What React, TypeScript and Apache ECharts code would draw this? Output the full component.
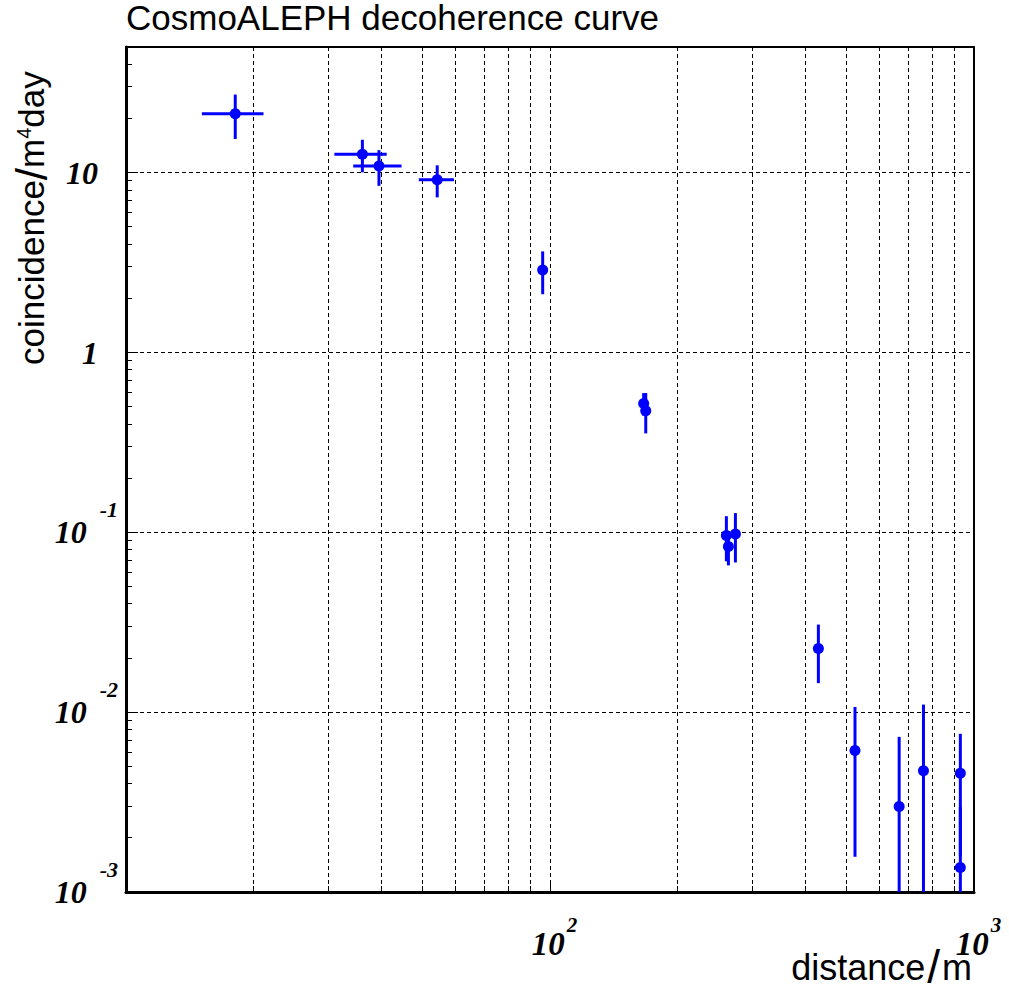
import React, { useEffect, useRef } from "react";
import * as echarts from "echarts";

// ---- data ----
const xVal = [18.1, 36.1, 39.5, 54.2, 96.1, 166.3, 168.2, 260.6, 263.5, 273.7, 429.5, 524, 666, 760, 928.5, 928.5];
const xErr = [3.0, 5.1, 5.15, 5.15, 0, 0, 0, 0, 0, 0, 0, 0, 0, 0, 0, 0];
const yVal = [21.3, 12.65, 10.9, 9.14, 2.88, 0.52, 0.475, 0.096, 0.0835, 0.098, 0.0226, 0.00613, 0.00299, 0.00472, 0.00458, 0.00137];
const yErr = [5.9, 2.6, 2.45, 1.85, 0.77, 0.075, 0.12, 0.027, 0.018, 0.03, 0.0081, 0.00456, 0.0043, 0.0063, 0.003, 0.0016];

// ---- axis structure ----
const X_MIN = 10;
const X_MAX = 1000;
const Y_MIN = 0.001;
const Y_MAX = 50;
const xMinorTicks = [20, 30, 40, 50, 60, 70, 80, 90, 200, 300, 400, 500, 600, 700, 800, 900];
const xMajorTicks = [100];
const yMinorTicks = [
  0.002, 0.003, 0.004, 0.005, 0.006, 0.007, 0.008, 0.009,
  0.02, 0.03, 0.04, 0.05, 0.06, 0.07, 0.08, 0.09,
  0.2, 0.3, 0.4, 0.5, 0.6, 0.7, 0.8, 0.9,
  2, 3, 4, 5, 6, 7, 8, 9,
  20, 30, 40,
];
const yMajorTicks = [0.01, 0.1, 1, 10];
const gridX = [20, 30, 40, 50, 60, 70, 80, 90, 100, 200, 300, 400, 500, 600, 700, 800, 900];
const gridY = [0.01, 0.1, 1, 10];

const TITLE = "CosmoALEPH decoherence curve";

const SERIF = "'Liberation Serif', 'Times New Roman', serif";
const SANS = "'Liberation Sans', Arial, Helvetica, sans-serif";
const BLUE = "#0000ff";

const labelBase = {
  fontFamily: SERIF,
  fontWeight: "bold" as const,
  fontStyle: "italic" as const,
  color: "#000",
};

const richY = {
  b: { ...labelBase, fontSize: 32, lineHeight: 68, padding: [18, 0, 18, 0] },
  bp: { ...labelBase, fontSize: 32, lineHeight: 68, padding: [18, 20, 18, 0] },
  e: { ...labelBase, fontSize: 22, lineHeight: 22, verticalAlign: "top", padding: [0, 0, 0, 13] },
};

const richX = {
  xb: { ...labelBase, fontSize: 33, lineHeight: 46, padding: [13, 0, 0, 9] },
  xe: { ...labelBase, fontSize: 21, lineHeight: 21, verticalAlign: "top", padding: [0, 0, 0, 2] },
};

function decade(v: number): number | null {
  const e = Math.log10(v);
  const r = Math.round(e);
  return Math.abs(e - r) < 1e-6 ? r : null;
}

const snap = (v: number) => Math.round(v - 0.5) + 0.5;

export default function App() {
  const ref = useRef<HTMLDivElement>(null);

  useEffect(() => {
    if (!ref.current) return;
    const chart = echarts.init(ref.current, null, { renderer: "svg" });

    const gridLineStyle = { stroke: "#000", lineWidth: 1, lineDash: [4, 3] };

    const option: any = {
      animation: false,
      backgroundColor: "#ffffff",
      title: {
        text: TITLE,
        left: 126,
        top: 0,
        padding: 0,
        textStyle: { fontFamily: SANS, fontSize: 35, fontWeight: "normal", color: "#000" },
      },
      grid: {
        left: 126,
        right: 35,
        top: 47,
        bottom: 96,
        show: true,
        borderColor: "#000",
        borderWidth: 2,
        backgroundColor: "transparent",
        containLabel: false,
        outerBoundsMode: "none",
      },
      xAxis: {
        type: "log",
        logBase: 10,
        min: X_MIN,
        max: X_MAX,
        axisLine: { show: true, onZero: false, lineStyle: { color: "#000", width: 3 } },
        axisTick: { show: false },
        splitLine: { show: false },
        minorTick: { show: false },
        axisLabel: {
          margin: 22,
          rich: richX,
          formatter: (v: number) => {
            const e = decade(v);
            if (e === null || e === 1) return "";
            return "{xb|10}{xe|" + e + "}";
          },
        },
      },
      yAxis: {
        type: "log",
        logBase: 10,
        min: Y_MIN,
        max: Y_MAX,
        axisLine: { show: true, onZero: false, lineStyle: { color: "#000", width: 3 } },
        axisTick: { show: false },
        splitLine: { show: false },
        minorTick: { show: false },
        axisLabel: {
          margin: 8,
          rich: richY,
          formatter: (v: number) => {
            const e = decade(v);
            if (e === null) return "";
            if (e === 0) return "{bp|1}";
            if (e === 1) return "{bp|10}";
            return "{b|10}{e|" + e + "}";
          },
        },
      },
      series: [
        {
          type: "custom",
          name: "gridV",
          coordinateSystem: "cartesian2d",
          silent: true,
          z: 1,
          data: gridX.map((v) => [v, 1]),
          encode: { x: 0, y: 1 },
          renderItem: (params: any, api: any) => {
            const cs = params.coordSys;
            const p = api.coord([api.value(0), 1]);
            const x = snap(p[0]);
            return {
              type: "line",
              shape: { x1: x, y1: cs.y, x2: x, y2: cs.y + cs.height },
              style: gridLineStyle,
            };
          },
        },
        {
          type: "custom",
          name: "gridH",
          coordinateSystem: "cartesian2d",
          silent: true,
          z: 1,
          data: gridY.map((v) => [100, v]),
          encode: { x: 0, y: 1 },
          renderItem: (params: any, api: any) => {
            const cs = params.coordSys;
            const p = api.coord([100, api.value(1)]);
            const y = snap(p[1]);
            return {
              type: "line",
              shape: { x1: cs.x, y1: y, x2: cs.x + cs.width, y2: y },
              style: gridLineStyle,
            };
          },
        },
        {
          type: "custom",
          name: "ticks",
          coordinateSystem: "cartesian2d",
          silent: true,
          z: 3,
          data: [
            ...xMinorTicks.map((v) => [v, Y_MIN, 0, 6]),
            ...xMajorTicks.map((v) => [v, Y_MIN, 0, 12]),
            ...yMinorTicks.map((v) => [X_MIN, v, 1, 6]),
            ...yMajorTicks.map((v) => [X_MIN, v, 1, 12]),
          ],
          encode: { x: 0, y: 1 },
          renderItem: (params: any, api: any) => {
            const isY = api.value(2) === 1;
            const len = api.value(3);
            const p = api.coord([api.value(0), api.value(1)]);
            const shape = isY
              ? { x1: p[0], y1: snap(p[1]), x2: p[0] + len, y2: snap(p[1]) }
              : { x1: snap(p[0]), y1: p[1], x2: snap(p[0]), y2: p[1] - len };
            return { type: "line", shape, style: { stroke: "#000", lineWidth: 1 } };
          },
        },
        {
          type: "custom",
          name: "data",
          coordinateSystem: "cartesian2d",
          silent: true,
          z: 5,
          data: xVal.map((x, i) => [x, yVal[i], xErr[i], yErr[i]]),
          encode: { x: 0, y: 1 },
          renderItem: (params: any, api: any) => {
            const cs = params.coordSys;
            const x = api.value(0);
            const y = api.value(1);
            const ex = api.value(2);
            const ey = api.value(3);
            const c = api.coord([x, y]);
            const yBottom = cs.y + cs.height;
            const top = Math.max(cs.y, api.coord([x, y + ey])[1]);
            const bottom = y - ey > 0 ? Math.min(yBottom, api.coord([x, y - ey])[1]) : yBottom;
            const children: any[] = [
              {
                type: "line",
                shape: { x1: c[0], y1: top, x2: c[0], y2: bottom },
                style: { stroke: BLUE, lineWidth: 3 },
              },
            ];
            if (ex > 0) {
              const l = api.coord([x - ex, y]);
              const r = api.coord([x + ex, y]);
              children.push({
                type: "line",
                shape: { x1: l[0], y1: c[1], x2: r[0], y2: c[1] },
                style: { stroke: BLUE, lineWidth: 3 },
              });
            }
            children.push({
              type: "circle",
              shape: { cx: c[0], cy: c[1], r: 5.5 },
              style: { fill: BLUE },
            });
            return { type: "group", children };
          },
        },
      ],
      graphic: [
        {
          type: "text",
          x: 31,
          y: 365,
          rotation: Math.PI / 2,
          silent: true,
          style: {
            text: "{a|coincidence}{sl|/}{a|m}{s|4}{a|day}",
            align: "left",
            verticalAlign: "middle",
            textAlign: "left",
            textVerticalAlign: "middle",
            fill: "#000",
            rich: {
              a: { fontFamily: SANS, fontSize: 35, lineHeight: 35, color: "#000" },
              sl: { fontFamily: SANS, fontSize: 44, lineHeight: 35, color: "#000" },
              s: { fontFamily: SANS, fontSize: 20, lineHeight: 20, verticalAlign: "top", color: "#000" },
            },
          },
        },
        {
          type: "text",
          x: 972,
          y: 967,
          silent: true,
          style: {
            text: "{a|distance}{sl|/}{a|m}",
            align: "right",
            verticalAlign: "middle",
            textAlign: "right",
            textVerticalAlign: "middle",
            fill: "#000",
            rich: {
              a: { fontFamily: SANS, fontSize: 36, lineHeight: 36, color: "#000" },
              sl: { fontFamily: SANS, fontSize: 46, lineHeight: 36, color: "#000", padding: [0, 2, 0, 2] },
            },
          },
        },
      ],
    };

    chart.setOption(option);
    return () => {
      chart.dispose();
    };
  }, []);

  return (
    <div
      ref={ref}
      style={{ position: "absolute", left: 0, top: 0, width: 1009, height: 988, background: "#fff" }}
    />
  );
}
